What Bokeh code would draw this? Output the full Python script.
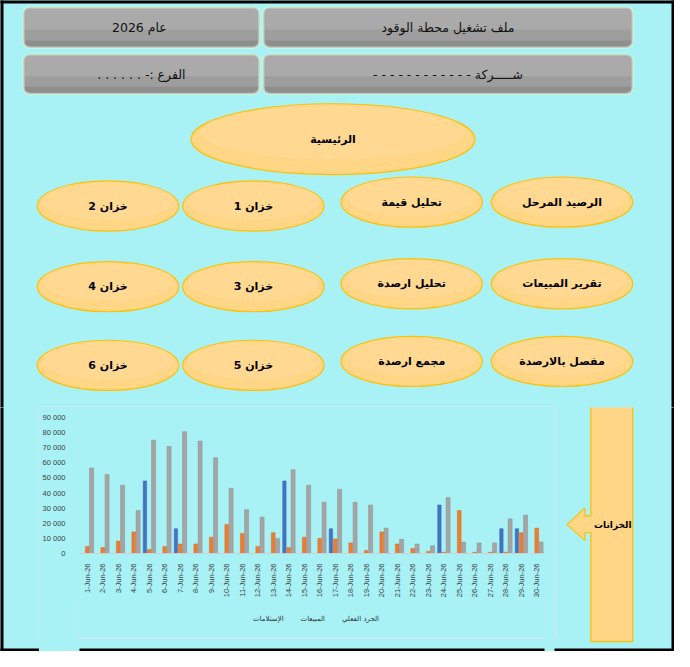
import math
from bokeh.plotting import figure
from bokeh.layouts import column, row
from bokeh.models import (Range1d, FactorRange, ColumnDataSource, BoxAnnotation,
                          Legend, LegendItem, FixedTicker)
from bokeh.transform import dodge
from bokeh.core.properties import value
from bokeh.embed import file_html
from bokeh.resources import INLINE

# ---------------- data ----------------
days = ["1-Jun-26", "2-Jun-26", "3-Jun-26", "4-Jun-26", "5-Jun-26", "6-Jun-26",
        "7-Jun-26", "8-Jun-26", "9-Jun-26", "10-Jun-26", "11-Jun-26", "12-Jun-26",
        "13-Jun-26", "14-Jun-26", "15-Jun-26", "16-Jun-26", "17-Jun-26", "18-Jun-26",
        "19-Jun-26", "20-Jun-26", "21-Jun-26", "22-Jun-26", "23-Jun-26", "24-Jun-26",
        "25-Jun-26", "26-Jun-26", "27-Jun-26", "28-Jun-26", "29-Jun-26", "30-Jun-26"]
receipts = [0, 0, 0, 0, 48000, 0, 16400, 0, 0, 0, 0, 0, 0, 48000, 0,
            0, 16400, 0, 0, 0, 0, 0, 0, 32100, 0, 0, 0, 16400, 16400, 0]
sales = [4700, 3900, 8200, 14300, 2700, 4700, 6300, 6300, 10800, 19200, 13300, 4700,
         13700, 3900, 10800, 10000, 9600, 7000, 2000, 14300, 6300, 3300, 1400, 800,
         28400, 800, 800, 800, 13700, 16800]
stock = [56600, 52300, 45200, 28400, 75000, 70800, 80600, 74400, 63400, 43100, 29000,
         24100, 10000, 55400, 45200, 33900, 42500, 33900, 32100, 16800, 9400, 6300,
         5100, 37000, 7600, 7000, 7000, 22900, 25400, 7600]
series_names = ["الإستلامات", "المبيعات", "الجرد الفعلي"]
series_colors = ["#4472C4", "#ED7D31", "#A5A5A5"]
y_ticks = [0, 10000, 20000, 30000, 40000, 50000, 60000, 70000, 80000, 90000]
y_tick_labels = ["0", "10 000", "20 000", "30 000", "40 000", "50 000",
                 "60 000", "70 000", "80 000", "90 000"]

header_texts = ["عام  2026", "ملف تشغيل محطة الوقود",
                "الفرع :- . . . . . .", "شـــــركة - - - - - - - - - - - -"]
main_label = "الرئيسية"
menu_labels = ["خزان 2", "خزان 1", "تحليل قيمة", "الرصيد المرحل",
               "خزان 4", "خزان 3", "تحليل ارصدة", "تقرير المبيعات",
               "خزان 6", "خزان 5", "مجمع ارصدة", "مفصل بالارصدة"]
side_label = "الخزانات"

# ---------------- layout geometry (reference pixel space) ----------------
header_boxes = [(29, 266, 10, 51), (270, 641, 10, 51),
                (29, 266, 58, 98), (270, 641, 58, 98)]
main_ellipse = (340, 144, 285, 72)
menu_x = [114, 260, 419, 570]
menu_y_left = [212, 294, 374]
menu_y_right = [208, 291, 370]
menu_w, menu_h = 142, 51
arrow_x = [641, 641, 599, 599, 593, 593, 575, 593, 593, 599, 599]
arrow_y = [414, 655, 655, 544, 544, 552, 536, 519, 527, 527, 414]

BG = "#A8F2F6"
ORANGE_FILL = "#FFD586"
ORANGE_HI = "#FFDFA2"
ORANGE_LINE = "#FFC000"
CHART_BORDER = "#E4E4F2"
FONT = "DejaVu Sans"

PX0, PY0, PW, PH = 8, 8, 674, 651
RX0, RX1, RY0, RY1 = 6.0, 683.0, 3.0, 665.0


def rx(px):
    return RX0 + (px - PX0) * (RX1 - RX0) / PW


def ry(py):
    return RY0 + (py - PY0) * (RY1 - RY0) / PH


def rtl(s):
    return s + "\u200f"


def deco_fig(x0, y0, w, h):
    p = figure(width=w, height=h, x_range=Range1d(rx(x0), rx(x0 + w)),
               y_range=Range1d(ry(y0 + h), ry(y0)), x_axis_type=None, y_axis_type=None,
               output_backend="svg", toolbar_location=None, min_border=0,
               styles={"background-color": BG})
    p.grid.visible = False
    p.outline_line_color = None
    p.background_fill_color = BG
    p.border_fill_color = BG
    # outer black frame (page pixels converted)
    p.quad(left=[rx(0), rx(0), rx(679), rx(0)],
           right=[rx(11), rx(690), rx(690), rx(690)],
           top=[ry(0), ry(0), ry(0), ry(656)],
           bottom=[ry(667), ry(11), ry(667), ry(667)],
           fill_color="black", line_color=None)
    # chart border
    p.quad(left=[rx(46.5)], right=[rx(562.5)], top=[ry(414.5)], bottom=[ry(645.5)],
           fill_color=None, line_color=CHART_BORDER, line_width=1)
    return p


def orange_ellipses(p, xs, ys, ws, hs):
    p.ellipse(x=xs, y=ys, width=ws, height=hs, fill_color=ORANGE_FILL,
              line_color=ORANGE_LINE, line_width=1.2)
    p.ellipse(x=xs, y=[y - h * 0.1 for y, h in zip(ys, hs)],
              width=[w * 0.94 for w in ws], height=[h * 0.76 for h in hs],
              fill_color=ORANGE_HI, fill_alpha=0.4, line_color=None)


# ---------------- top panel ----------------
top = deco_fig(8, 8, 674, 407)
for (l, r, t, b) in header_boxes:
    top.add_layout(BoxAnnotation(left=l, right=r, top=t, bottom=b, fill_color="#AAAAAA",
                                 fill_alpha=1, line_color="#FFFFC0", line_width=2.5,
                                 border_radius=6, level="underlay"))
    top.add_layout(BoxAnnotation(left=l + 1.5, right=r - 1.5, top=t + (b - t) * 0.55,
                                 bottom=b - 1.5, fill_color="#9E9E9E", fill_alpha=1,
                                 line_color=None, border_radius=(0, 0, 5, 5), level="underlay"))
    top.add_layout(BoxAnnotation(left=l + 1.5, right=r - 1.5, top=t + (b - t) * 0.82,
                                 bottom=b - 1.5, fill_color="#8E8E8E", fill_alpha=1,
                                 line_color=None, border_radius=(0, 0, 5, 5), level="underlay"))

top.text(x=[(b[0] + b[1]) / 2 for b in header_boxes],
         y=[(b[2] + b[3]) / 2 for b in header_boxes],
         text=[rtl(s) for s in header_texts], text_align="center", text_baseline="middle",
         text_font=value(FONT), text_font_size="12.5px", text_color="#111111")

orange_ellipses(top, [main_ellipse[0]], [main_ellipse[1]], [main_ellipse[2]],
                [main_ellipse[3]])
top.text(x=[main_ellipse[0]], y=[main_ellipse[1]], text=[rtl(main_label)],
         text_align="center", text_baseline="middle", text_font=value(FONT),
         text_font_size="11px", text_font_style="bold", text_color="black")

mx, my = [], []
for ri in range(3):
    for ci in range(4):
        mx.append(menu_x[ci])
        my.append(menu_y_left[ri] if ci < 2 else menu_y_right[ri])
orange_ellipses(top, mx, my, [menu_w] * len(mx), [menu_h] * len(mx))
top.text(x=mx, y=my, text=[rtl(s) for s in menu_labels], text_align="center",
         text_baseline="middle", text_font=value(FONT), text_font_size="11px",
         text_font_style="bold", text_color="black")

# ---------------- bottom panels ----------------
left = deco_fig(8, 415, 39, 244)
side = deco_fig(562, 415, 120, 244)
side.patch(x=arrow_x, y=arrow_y, fill_color=ORANGE_FILL, line_color=ORANGE_LINE, line_width=1.2)
side.text(x=[621], y=[536], text=[rtl(side_label)], text_align="center",
          text_baseline="middle", text_font=value(FONT), text_font_size="9px",
          text_font_style="bold", text_color="black")

# legend strip under the chart (also carries the bottom frame)
bot = deco_fig(47, 608, 515, 51)
leg_src = ColumnDataSource(dict(x=[], y=[]))
leg_items = []
for name, col in zip(series_names, series_colors):
    rr = bot.scatter(x="x", y="y", source=leg_src, marker="square", size=6,
                     fill_color=col, line_color=None)
    leg_items.append(LegendItem(label=name, renderers=[rr]))
legend = Legend(items=leg_items, orientation="horizontal", location="top_center",
                label_text_font=FONT, label_text_font_size="7px",
                label_text_color="#333333", glyph_width=6, glyph_height=6,
                label_standoff=3, spacing=8, margin=13, padding=2,
                background_fill_alpha=0, border_line_alpha=0)
bot.add_layout(legend)

# ---------------- chart ----------------
src = ColumnDataSource(dict(day=days, receipts=receipts, sales=sales, stock=stock))
chart = figure(width=515, height=193, x_range=FactorRange(*days), y_range=Range1d(0, 90000),
               output_backend="svg", toolbar_location=None,
               min_border_left=36, min_border_right=10, min_border_top=10,
               min_border_bottom=40, styles={"background-color": BG})
chart.background_fill_color = BG
chart.border_fill_color = BG
chart.outline_line_color = None
chart.grid.visible = False

chart.vbar(x=dodge("day", -0.28, range=chart.x_range), top="receipts", width=0.22,
           source=src, fill_color=series_colors[0], line_color="#3A64B0", line_width=0.5)
chart.vbar(x=dodge("day", 0.0, range=chart.x_range), top="sales", width=0.24,
           source=src, fill_color=series_colors[1], line_color="#D86A20", line_width=0.5)
chart.vbar(x=dodge("day", 0.28, range=chart.x_range), top="stock", width=0.26,
           source=src, fill_color=series_colors[2], line_color="#8F8F8F", line_width=0.5)

chart.yaxis.ticker = FixedTicker(ticks=y_ticks)
chart.yaxis.major_label_overrides = {t: lab for t, lab in zip(y_ticks, y_tick_labels)}
chart.yaxis.axis_line_color = None
chart.yaxis.major_tick_line_color = None
chart.yaxis.minor_tick_line_color = None
chart.yaxis.major_label_standoff = 8
chart.xaxis.axis_line_color = "#D0D0D0"
chart.xaxis.major_tick_line_color = None
chart.xaxis.major_label_orientation = math.pi / 2
chart.xaxis.major_label_standoff = 4
for ax in (chart.xaxis, chart.yaxis):
    ax.major_label_text_font = "Liberation Sans"
    ax.major_label_text_font_size = "7.5px"
    ax.major_label_text_color = "#404040"

layout = column(top,
                row(left, column(chart, bot, spacing=0, styles={"background-color": BG}),
                    side, spacing=0, styles={"background-color": BG}),
                spacing=0, styles={"background-color": BG})

open("out.html", "w").write(file_html(layout, INLINE))
